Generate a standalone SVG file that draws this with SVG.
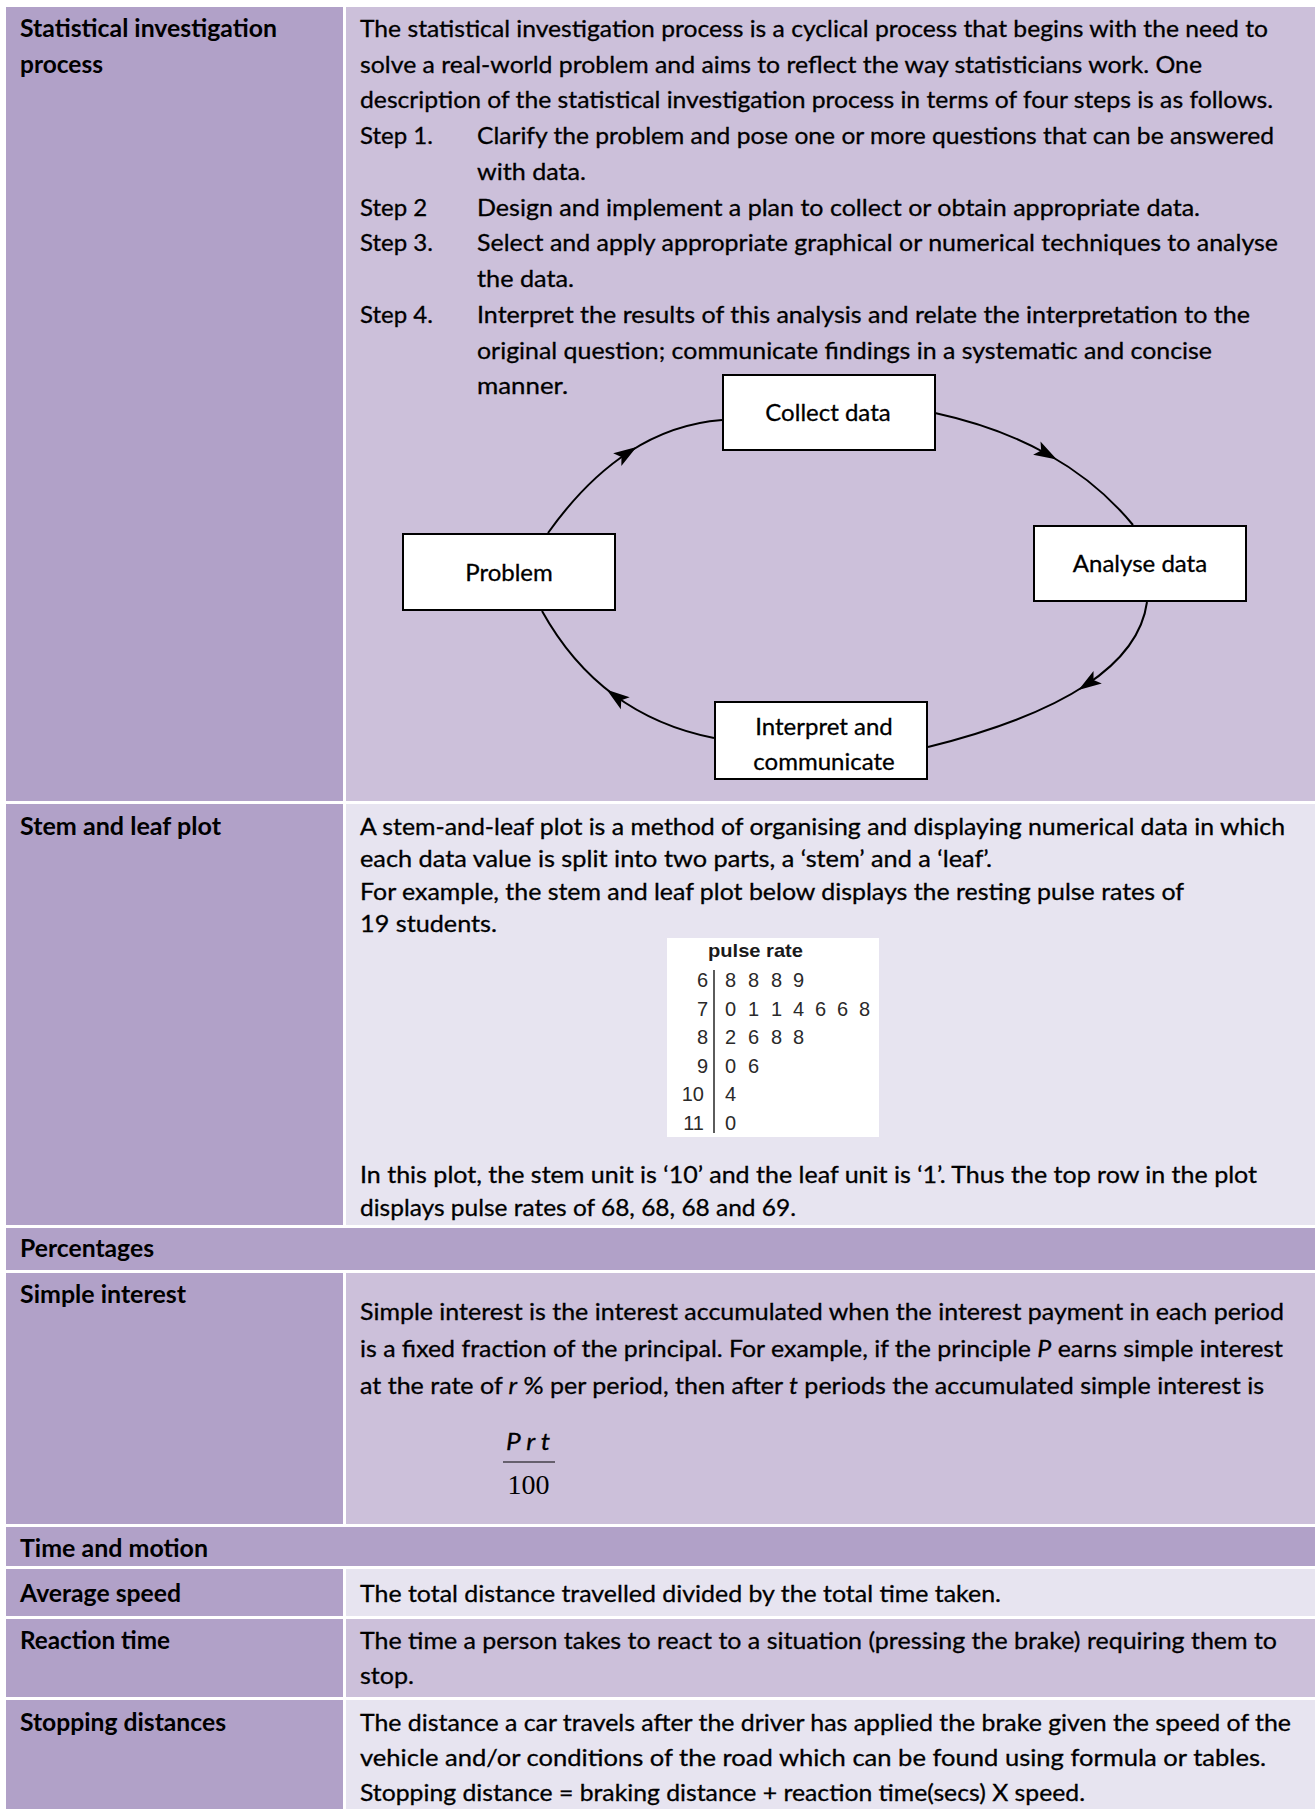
<svg xmlns="http://www.w3.org/2000/svg" width="1315" height="1809" viewBox="0 0 1315 1809">
<defs>
<style>
.bd{fill:#B1A1C8}
.bm{fill:#CCC0DA}
.bl{fill:#E7E4F0}
.t{font-family:Lato,"Liberation Sans",sans-serif;font-size:24px;fill:#000;stroke:#000;stroke-width:0.3px}
.b{font-family:Lato,"Liberation Sans",sans-serif;font-size:24px;font-weight:bold;fill:#000}
.i{font-style:italic}
.box{fill:#fff;stroke:#000;stroke-width:2}
.bt{font-family:Lato,"Liberation Sans",sans-serif;font-size:24px;fill:#000;stroke:#000;stroke-width:0.3px;text-anchor:middle}
.conn{fill:none;stroke:#000;stroke-width:2;marker-mid:url(#arr)}
.pl{font-family:"Liberation Sans",Arial,sans-serif;font-size:20px;fill:#2a2a2a}
</style>
<marker id="arr" viewBox="-16 -9 26 18" markerWidth="26" markerHeight="18" refX="0" refY="0" orient="auto" markerUnits="userSpaceOnUse"><path d="M9,0 L-14,-7.5 L-9,0 L-14,7.5 Z" fill="#000"/></marker>
</defs>
<rect width="1315" height="1809" fill="#fff"/>

<g id="row-statistical-investigation">
<rect class="bd" x="6" y="7" width="337" height="794"/>
<rect class="bm" x="346" y="7" width="969" height="794"/>
<text class="b" x="20" y="37" textLength="257" lengthAdjust="spacingAndGlyphs">Statistical investigation</text>
<text class="b" x="20" y="73" textLength="83" lengthAdjust="spacingAndGlyphs">process</text>
<text class="t" x="360" y="37" textLength="908" lengthAdjust="spacingAndGlyphs">The statistical investigation process is a cyclical process that begins with the need to</text>
<text class="t" x="360" y="73" textLength="842" lengthAdjust="spacingAndGlyphs">solve a real-world problem and aims to reflect the way statisticians work. One</text>
<text class="t" x="360" y="108" textLength="913" lengthAdjust="spacingAndGlyphs">description of the statistical investigation process in terms of four steps is as follows.</text>
<text class="t" x="360" y="144">Step 1.</text>
<text class="t" x="477" y="144" textLength="797" lengthAdjust="spacingAndGlyphs">Clarify the problem and pose one or more questions that can be answered</text>
<text class="t" x="477" y="180" textLength="109" lengthAdjust="spacingAndGlyphs">with data.</text>
<text class="t" x="360" y="216">Step 2</text>
<text class="t" x="477" y="216" textLength="723" lengthAdjust="spacingAndGlyphs">Design and implement a plan to collect or obtain appropriate data.</text>
<text class="t" x="360" y="251">Step 3.</text>
<text class="t" x="477" y="251" textLength="801" lengthAdjust="spacingAndGlyphs">Select and apply appropriate graphical or numerical techniques to analyse</text>
<text class="t" x="477" y="287" textLength="97" lengthAdjust="spacingAndGlyphs">the data.</text>
<text class="t" x="360" y="323">Step 4.</text>
<text class="t" x="477" y="323" textLength="773" lengthAdjust="spacingAndGlyphs">Interpret the results of this analysis and relate the interpretation to the</text>
<text class="t" x="477" y="359" textLength="735" lengthAdjust="spacingAndGlyphs">original question; communicate findings in a systematic and concise</text>
<text class="t" x="477" y="394" textLength="91" lengthAdjust="spacingAndGlyphs">manner.</text>
</g>

<g id="connectors">
<path class="conn" d="M548,533 Q585.5,480.25 629,452 Q672.5,423.75 722,420"/>
<path class="conn" d="M935,413 Q999.5,427 1049,455 Q1098.5,483 1133,525"/>
<path class="conn" d="M1147,602 Q1140.75,648.75 1086,685 Q1031.25,721.25 928,747"/>
<path class="conn" d="M714,738 Q657,726.75 614,695 Q571,663.25 542,611"/>
</g>

<g id="node-collect">
<rect class="box" x="723" y="375" width="212" height="75"/>
<text class="bt" x="828" y="421">Collect data</text>
</g>
<g id="node-problem">
<rect class="box" x="403" y="534" width="212" height="76"/>
<text class="bt" x="509" y="581">Problem</text>
</g>
<g id="node-analyse">
<rect class="box" x="1034" y="526" width="212" height="75"/>
<text class="bt" x="1140" y="572">Analyse data</text>
</g>
<g id="node-interpret">
<rect class="box" x="715" y="702" width="212" height="77"/>
<text class="bt" x="824" y="735">Interpret and</text>
<text class="bt" x="824" y="770">communicate</text>
</g>

<g id="row-stem-leaf">
<rect class="bd" x="6" y="804" width="337" height="421"/>
<rect class="bl" x="346" y="804" width="969" height="421"/>
<text class="b" x="20" y="835" textLength="201" lengthAdjust="spacingAndGlyphs">Stem and leaf plot</text>
<text class="t" x="360" y="835" textLength="925" lengthAdjust="spacingAndGlyphs">A stem-and-leaf plot is a method of organising and displaying numerical data in which</text>
<text class="t" x="360" y="867" textLength="632" lengthAdjust="spacingAndGlyphs">each data value is split into two parts, a ‘stem’ and a ‘leaf’.</text>
<text class="t" x="360" y="900" textLength="824" lengthAdjust="spacingAndGlyphs">For example, the stem and leaf plot below displays the resting pulse rates of</text>
<text class="t" x="360" y="932" textLength="137" lengthAdjust="spacingAndGlyphs">19 students.</text>
<text class="t" x="360" y="1183" textLength="897" lengthAdjust="spacingAndGlyphs">In this plot, the stem unit is ‘10’ and the leaf unit is ‘1’. Thus the top row in the plot</text>
<text class="t" x="360" y="1216" textLength="436" lengthAdjust="spacingAndGlyphs">displays pulse rates of 68, 68, 68 and 69.</text>
</g>

<g id="stem-leaf-plot">
<rect x="667" y="938" width="212" height="199" fill="#fff"/>
<text x="708" y="957" textLength="95" lengthAdjust="spacingAndGlyphs" style="font-family:'Liberation Sans',Arial,sans-serif;font-size:19px;font-weight:bold;fill:#1a1a1a">pulse rate</text>
<line x1="714" y1="970" x2="714" y2="1133" stroke="#333" stroke-width="1.6"/>
<g class="pl" text-anchor="end">
<text x="708" y="987">6</text>
<text x="708" y="1015.5">7</text>
<text x="708" y="1044">8</text>
<text x="708" y="1072.5">9</text>
<text x="704" y="1101">10</text>
<text x="704" y="1129.5">11</text>
</g>
<g class="pl">
<text x="725 748 771 793" y="987">8889</text>
<text x="725 748 771 793 815 837 859" y="1015.5">0114668</text>
<text x="725 748 771 793" y="1044">2688</text>
<text x="725 748" y="1072.5">06</text>
<text x="725" y="1101">4</text>
<text x="725" y="1129.5">0</text>
</g>
</g>

<g id="row-percentages">
<rect class="bd" x="6" y="1228" width="1309" height="42"/>
<text class="b" x="20" y="1257" textLength="134" lengthAdjust="spacingAndGlyphs">Percentages</text>
</g>

<g id="row-simple-interest">
<rect class="bd" x="6" y="1273" width="337" height="251"/>
<rect class="bm" x="346" y="1273" width="969" height="251"/>
<text class="b" x="20" y="1303" textLength="166" lengthAdjust="spacingAndGlyphs">Simple interest</text>
<text class="t" x="360" y="1320" textLength="924" lengthAdjust="spacingAndGlyphs">Simple interest is the interest accumulated when the interest payment in each period</text>
<text class="t" x="360" y="1357" textLength="923" lengthAdjust="spacingAndGlyphs">is a fixed fraction of the principal. For example, if the principle <tspan class="i">P</tspan> earns simple interest</text>
<text class="t" x="360" y="1394" textLength="904" lengthAdjust="spacingAndGlyphs">at the rate of <tspan class="i">r</tspan> % per period, then after <tspan class="i">t</tspan> periods the accumulated simple interest is</text>
<text class="t i" x="506" y="1450" textLength="44" lengthAdjust="spacingAndGlyphs">P r t</text>
<line x1="503" y1="1462" x2="555" y2="1462" stroke="#000" stroke-width="1.2"/>
<text x="528.5" y="1494" text-anchor="middle" style="font-family:'Liberation Serif','Times New Roman',serif;font-size:28px;fill:#000">100</text>
</g>

<g id="row-time-motion">
<rect class="bd" x="6" y="1527" width="1309" height="39"/>
<text class="b" x="20" y="1557" textLength="188" lengthAdjust="spacingAndGlyphs">Time and motion</text>
</g>

<g id="row-average-speed">
<rect class="bd" x="6" y="1569" width="337" height="47"/>
<rect class="bl" x="346" y="1569" width="969" height="47"/>
<text class="b" x="20" y="1602" textLength="161" lengthAdjust="spacingAndGlyphs">Average speed</text>
<text class="t" x="360" y="1602" textLength="641" lengthAdjust="spacingAndGlyphs">The total distance travelled divided by the total time taken.</text>
</g>

<g id="row-reaction-time">
<rect class="bd" x="6" y="1619" width="337" height="78"/>
<rect class="bm" x="346" y="1619" width="969" height="78"/>
<text class="b" x="20" y="1649" textLength="150" lengthAdjust="spacingAndGlyphs">Reaction time</text>
<text class="t" x="360" y="1649" textLength="917" lengthAdjust="spacingAndGlyphs">The time a person takes to react to a situation (pressing the brake) requiring them to</text>
<text class="t" x="360" y="1684" textLength="54" lengthAdjust="spacingAndGlyphs">stop.</text>
</g>

<g id="row-stopping-distances">
<rect class="bd" x="6" y="1700" width="337" height="109"/>
<rect class="bl" x="346" y="1700" width="969" height="109"/>
<text class="b" x="20" y="1731" textLength="206" lengthAdjust="spacingAndGlyphs">Stopping distances</text>
<text class="t" x="360" y="1731" textLength="931" lengthAdjust="spacingAndGlyphs">The distance a car travels after the driver has applied the brake given the speed of the</text>
<text class="t" x="360" y="1766" textLength="906" lengthAdjust="spacingAndGlyphs">vehicle and/or conditions of the road which can be found using formula or tables.</text>
<text class="t" x="360" y="1801" textLength="725" lengthAdjust="spacingAndGlyphs">Stopping distance = braking distance + reaction time(secs) X speed.</text>
</g>
</svg>
